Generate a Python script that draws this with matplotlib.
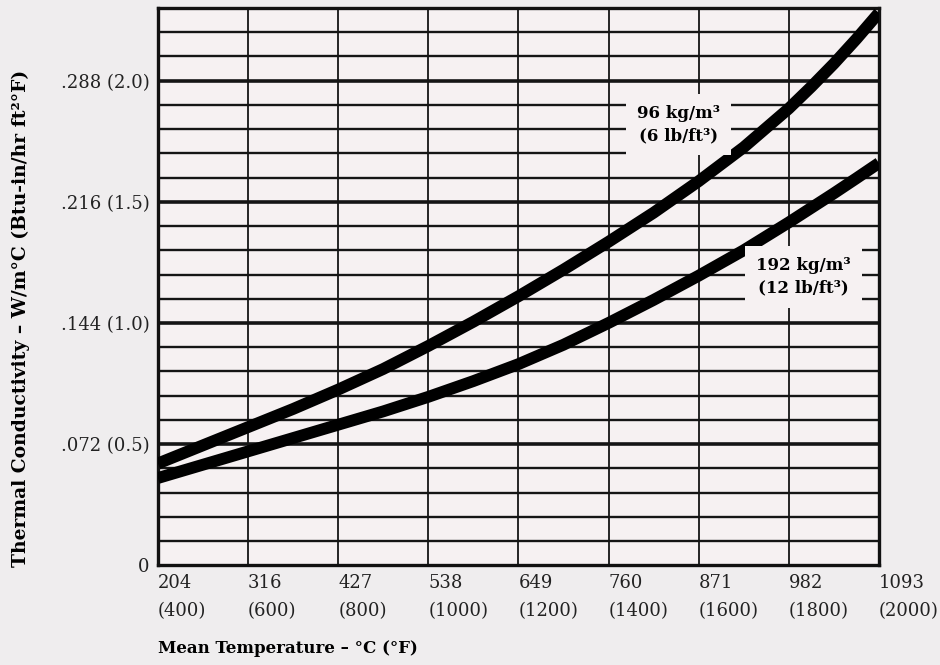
import numpy as np
import matplotlib

matplotlib.use("Agg")
import matplotlib.pyplot as plt

# mean temperature, deg F (deg C shown above it on the axis)
temp_f = [400, 500, 600, 700, 800, 900, 1000, 1100, 1200, 1300,
          1400, 1500, 1600, 1700, 1800, 1850, 1900, 1950, 2000]
# thermal conductivity, Btu-in/hr ft2 F
k_96 = [0.42, 0.495, 0.57, 0.645, 0.725, 0.81, 0.905, 1.005, 1.11, 1.22,
        1.335, 1.455, 1.585, 1.725, 1.885, 1.975, 2.07, 2.172, 2.28]
k_192 = [0.36, 0.415, 0.47, 0.525, 0.58, 0.635, 0.695, 0.76, 0.83, 0.91,
         1.00, 1.095, 1.195, 1.30, 1.415, 1.475, 1.535, 1.597, 1.66]

xtick_f = [400, 600, 800, 1000, 1200, 1400, 1600, 1800, 2000]
xtick_c = ["204", "316", "427", "538", "649", "760", "871", "982", "1093"]
ytick_btu = [0, 0.5, 1.0, 1.5, 2.0]
ytick_labels = ["0", ".072 (0.5)", ".144 (1.0)", ".216 (1.5)", ".288 (2.0)"]

paper = "#efedee"
inside = "#f6f1f2"
serif = ["DejaVu Serif"]

fig = plt.figure(figsize=(9.4, 6.65), dpi=100, facecolor=paper)
ax = fig.add_axes([0.168, 0.150, 0.767, 0.838], facecolor=inside)

# grid: every 0.1 Btu, heavier on the labelled 0.5 lines
for v in np.arange(0.1, 2.3, 0.1):
    major = abs(v * 2 - round(v * 2)) < 1e-6
    ax.axhline(v, color="#151515", lw=2.6 if major else 1.7, zorder=1)
for f in xtick_f[1:-1]:
    ax.axvline(f, color="#151515", lw=1.3, zorder=1)

ax.plot(temp_f, k_96, color="black", lw=8.5, solid_capstyle="butt",
        solid_joinstyle="round", zorder=3)
ax.plot(temp_f, k_192, color="black", lw=8.5, solid_capstyle="butt",
        solid_joinstyle="round", zorder=3)

ax.text(1555, 1.82, "96 kg/m³\n(6 lb/ft³)", family=serif, weight="bold",
        fontsize=12, ha="center", va="center", linespacing=1.4,
        bbox=dict(facecolor=inside, edgecolor="none", pad=8), zorder=4)
ax.text(1832, 1.19, "192 kg/m³\n(12 lb/ft³)", family=serif, weight="bold",
        fontsize=12, ha="center", va="center", linespacing=1.4,
        bbox=dict(facecolor=inside, edgecolor="none", pad=8), zorder=4)

ax.set_xlim(400, 2000)
ax.set_ylim(0, 2.3)
ax.set_xticks(xtick_f)
ax.set_xticklabels([f"{c}\n({f})" for c, f in zip(xtick_c, xtick_f)],
                   ha="left", family=serif, fontsize=13, color="#222222",
                   linespacing=1.75)
ax.set_yticks(ytick_btu)
ax.set_yticklabels(ytick_labels, family=serif, fontsize=13, color="#222222")
ax.tick_params(length=0, pad=6)
for s in ax.spines.values():
    s.set_linewidth(2.4)
    s.set_color("#111111")

ax.set_xlabel("Mean Temperature – °C (°F)", family=serif, weight="bold",
              fontsize=12, loc="left", labelpad=14)
ax.set_ylabel("Thermal Conductivity – W/m°C (Btu-in/hr ft²°F)", family=serif,
              weight="bold", fontsize=13.5)
ax.yaxis.set_label_coords(-0.178, 0.443)

fig.savefig("out.png", dpi=100, facecolor=paper)
